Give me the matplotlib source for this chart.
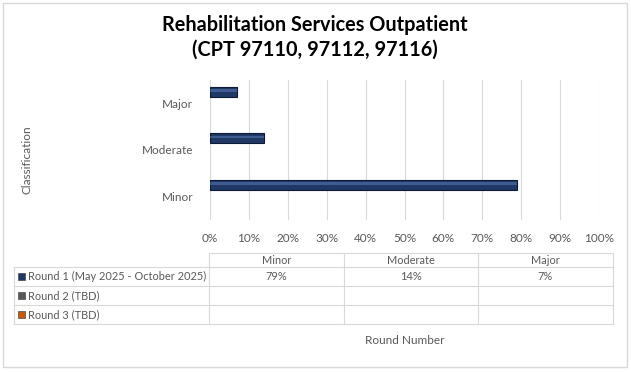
import numpy as np
import matplotlib.pyplot as plt
from matplotlib.lines import Line2D
from matplotlib.patches import Rectangle
from matplotlib.ticker import PercentFormatter

plt.rcParams['font.family'] = ['Lato', 'DejaVu Sans']

categories = ["Minor", "Moderate", "Major"]
series_names = ["Round 1 (May 2025 - October 2025)", "Round 2 (TBD)", "Round 3 (TBD)"]
round1 = [0.79, 0.14, 0.07]
round2 = [np.nan, np.nan, np.nan]
round3 = [np.nan, np.nan, np.nan]
series_values = [round1, round2, round3]
series_colors = ["#1F3864", "#595959", "#C55A11"]

W, H = 631, 372
fig = plt.figure(figsize=(W / 100, H / 100), dpi=100)


def fx(px):
    return px / W


def fy(py):
    return 1 - py / H


# outer chart frame
fig.add_artist(Rectangle((fx(3), fy(367)), fx(624), 364 / H, fill=False,
                         edgecolor="#D9D9D9", lw=1, transform=fig.transFigure))

fig.text(fx(315), fy(25), "Rehabilitation Services Outpatient", ha="center", va="center",
         fontsize=14.3, fontweight="bold", color="black")
fig.text(fx(315), fy(50), "(CPT 97110, 97112, 97116)", ha="center", va="center",
         fontsize=14.3, fontweight="bold", color="black")

ax = fig.add_axes([fx(210), fy(220), fx(389), 140 / H])
y = np.arange(len(categories))
bh = 0.22
offsets = [0.25, 0.0, -0.25]
for vals, off, col in zip(series_values, offsets, series_colors):
    ax.barh(y + off, vals, height=bh, color=col, edgecolor="#0d1a33", lw=0.8, zorder=3)
    # light highlight stripe for bevel look
    ax.barh(y + off + bh * 0.12, vals, height=bh * 0.25, color="#5b7bb5", alpha=0.55,
            lw=0, zorder=4)

ax.set_xlim(0, 1)
ax.set_ylim(-0.5, 2.5)
ax.set_xticks(np.arange(0, 1.01, 0.1))
ax.xaxis.set_major_formatter(PercentFormatter(1.0, decimals=0))
ax.set_yticks(y)
ax.set_yticklabels(categories)
ax.grid(axis="x", color="#D9D9D9", lw=0.8, zorder=0)
for s in ax.spines.values():
    s.set_visible(False)
ax.tick_params(axis="both", length=0, labelsize=8.5, colors="#595959")
ax.tick_params(axis="x", pad=9)
ax.tick_params(axis="y", pad=12)

fig.text(fx(27), fy(160), "Classification", rotation=90, ha="center", va="center",
         fontsize=8.5, color="#595959")

# data table
line_c = "#D9D9D9"
col_x = [14, 209, 344, 478, 613]
row_y = [253, 267, 286, 305, 324]
tfs = 7.9


def hline(x0, x1, yy):
    fig.add_artist(Line2D([fx(x0), fx(x1)], [fy(yy), fy(yy)], color=line_c, lw=0.8,
                          transform=fig.transFigure))


def vline(xx, y0, y1):
    fig.add_artist(Line2D([fx(xx), fx(xx)], [fy(y0), fy(y1)], color=line_c, lw=0.8,
                          transform=fig.transFigure))


hline(col_x[1], col_x[-1], row_y[0])
for yy in row_y[1:]:
    hline(col_x[0], col_x[-1], yy)
vline(col_x[0], row_y[1], row_y[-1])
for xx in col_x[1:]:
    vline(xx, row_y[0], row_y[-1])

for j, cat in enumerate(categories):
    cx = (col_x[j + 1] + col_x[j + 2]) / 2
    fig.text(fx(cx), fy((row_y[0] + row_y[1]) / 2), cat, ha="center", va="center",
             fontsize=tfs, color="#595959")

for i, (name, vals, col) in enumerate(zip(series_names, series_values, series_colors)):
    cy = (row_y[i + 1] + row_y[i + 2]) / 2
    fig.add_artist(Rectangle((fx(18), fy(cy + 3.5)), fx(7), 7 / H, facecolor=col,
                             edgecolor="#333333", lw=0.4, transform=fig.transFigure))
    fig.text(fx(28), fy(cy), name, ha="left", va="center", fontsize=tfs, color="#595959")
    for j, v in enumerate(vals):
        if np.isnan(v):
            continue
        cx = (col_x[j + 1] + col_x[j + 2]) / 2
        fig.text(fx(cx), fy(cy), f"{v:.0%}", ha="center", va="center",
                 fontsize=tfs, color="#595959")

fig.text(fx(405), fy(341), "Round Number", ha="center", va="center",
         fontsize=8.5, color="#595959")

fig.savefig("out.png", dpi=100)
